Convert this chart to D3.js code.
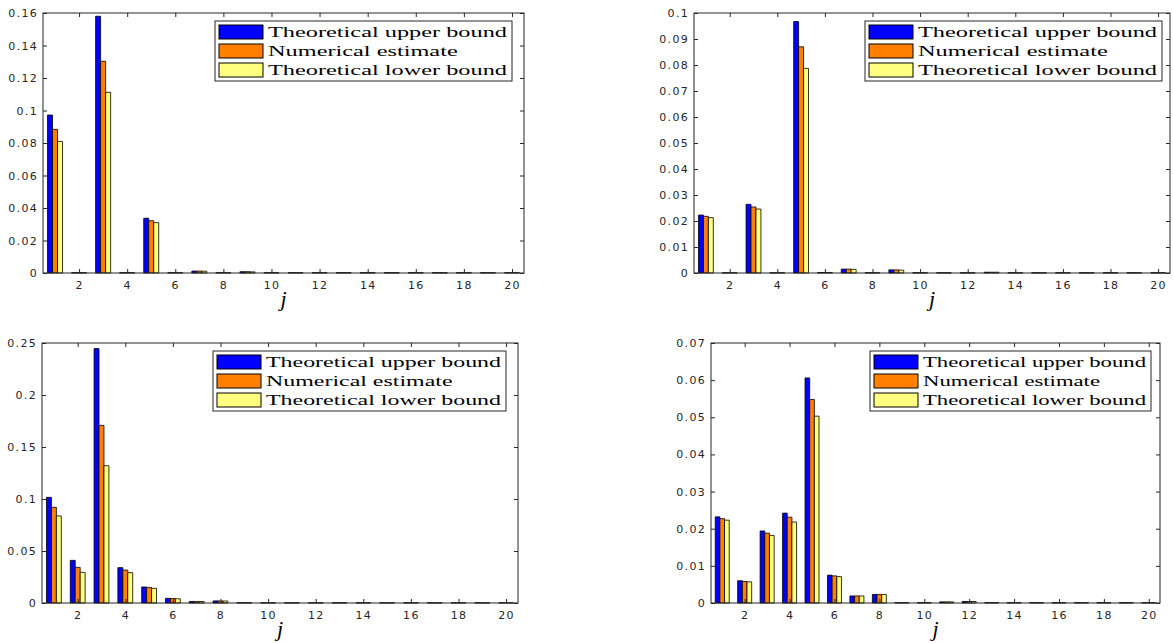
<!DOCTYPE html>
<html>
<head>
<meta charset="utf-8">
<script src="https://cdn.jsdelivr.net/npm/d3@7"></script>
<style>
  html, body { margin: 0; padding: 0; background: #fff; }
</style>
</head>
<body>
<div id="my_dataviz"></div>
<script>
// categories on the x axis
const jValues = [1, 2, 3, 4, 5, 6, 7, 8, 9, 10, 11, 12, 13, 14, 15, 16, 17, 18, 19, 20];
const seriesNames = ["Theoretical upper bound", "Numerical estimate", "Theoretical lower bound"];
const seriesColors = ["#0000ff", "#ff8000", "#ffff80"];

// top-left panel
const upperA = [0.0972, 0.0002, 0.158, 0.0002, 0.0337, 0.0002, 0.0012, 0.0002, 0.0008, 0.0002, 0.0002, 0.0002, 0.0002, 0.0002, 0.0002, 0.0002, 0.0002, 0.0002, 0.0002, 0.0002];
const estA   = [0.0884, 0.0002, 0.1303, 0.0002, 0.0322, 0.0002, 0.0012, 0.0002, 0.0008, 0.0002, 0.0002, 0.0002, 0.0002, 0.0002, 0.0002, 0.0002, 0.0002, 0.0002, 0.0002, 0.0002];
const lowerA = [0.0810, 0.0002, 0.1112, 0.0002, 0.0310, 0.0002, 0.0011, 0.0002, 0.0007, 0.0002, 0.0002, 0.0002, 0.0002, 0.0002, 0.0002, 0.0002, 0.0002, 0.0002, 0.0002, 0.0002];

// top-right panel
const upperB = [0.0223, 0.0001, 0.0264, 0.0001, 0.0967, 0.0002, 0.0015, 0.0001, 0.0012, 0.0001, 0.0001, 0.0001, 0.0003, 0.0001, 0.0001, 0.0001, 0.0001, 0.0001, 0.0001, 0.0001];
const estB   = [0.0218, 0.0001, 0.0254, 0.0001, 0.0870, 0.0002, 0.0015, 0.0001, 0.0012, 0.0001, 0.0001, 0.0001, 0.0003, 0.0001, 0.0001, 0.0001, 0.0001, 0.0001, 0.0001, 0.0001];
const lowerB = [0.0213, 0.0001, 0.0246, 0.0001, 0.0787, 0.0002, 0.0014, 0.0001, 0.0011, 0.0001, 0.0001, 0.0001, 0.0003, 0.0001, 0.0001, 0.0001, 0.0001, 0.0001, 0.0001, 0.0001];

// bottom-left panel
const upperC = [0.1016, 0.0410, 0.2446, 0.0340, 0.0154, 0.0045, 0.0015, 0.0020, 0.0003, 0.0002, 0.0002, 0.0002, 0.0002, 0.0002, 0.0002, 0.0002, 0.0002, 0.0002, 0.0002, 0.0002];
const estC   = [0.0920, 0.0343, 0.1708, 0.0317, 0.0150, 0.0043, 0.0015, 0.0020, 0.0003, 0.0002, 0.0002, 0.0002, 0.0002, 0.0002, 0.0002, 0.0002, 0.0002, 0.0002, 0.0002, 0.0002];
const lowerC = [0.0837, 0.0295, 0.1320, 0.0292, 0.0141, 0.0041, 0.0014, 0.0019, 0.0003, 0.0002, 0.0002, 0.0002, 0.0002, 0.0002, 0.0002, 0.0002, 0.0002, 0.0002, 0.0002, 0.0002];

// bottom-right panel
const upperD = [0.0232, 0.0060, 0.0194, 0.0242, 0.0606, 0.0075, 0.0019, 0.0023, 0.0001, 0.0001, 0.0003, 0.0004, 0.0001, 0.0001, 0.0001, 0.0001, 0.0001, 0.0001, 0.0001, 0.0001];
const estD   = [0.0227, 0.0058, 0.0188, 0.0231, 0.0548, 0.0073, 0.0019, 0.0023, 0.0001, 0.0001, 0.0003, 0.0004, 0.0001, 0.0001, 0.0001, 0.0001, 0.0001, 0.0001, 0.0001, 0.0001];
const lowerD = [0.0223, 0.0057, 0.0182, 0.0218, 0.0503, 0.0071, 0.0019, 0.0023, 0.0001, 0.0001, 0.0003, 0.0004, 0.0001, 0.0001, 0.0001, 0.0001, 0.0001, 0.0001, 0.0001, 0.0001];

// y tick values of each panel
const yTicksA = [0, 0.02, 0.04, 0.06, 0.08, 0.1, 0.12, 0.14, 0.16];
const yTicksB = [0, 0.01, 0.02, 0.03, 0.04, 0.05, 0.06, 0.07, 0.08, 0.09, 0.1];
const yTicksC = [0, 0.05, 0.1, 0.15, 0.2, 0.25];
const yTicksD = [0, 0.01, 0.02, 0.03, 0.04, 0.05, 0.06, 0.07];
const xTicks = [2, 4, 6, 8, 10, 12, 14, 16, 18, 20];

// layout of the four axes (pixels)
const panels = [
  { left: 43, top: 13, width: 481, height: 260, series: [upperA, estA, lowerA], yTicks: yTicksA, legendRight: 12, legendText: 239 },
  { left: 694, top: 13, width: 476, height: 260, series: [upperB, estB, lowerB], yTicks: yTicksB, legendRight: 8, legendText: 239 },
  { left: 42, top: 343, width: 476, height: 260, series: [upperC, estC, lowerC], yTicks: yTicksC, legendRight: 12, legendText: 235 },
  { left: 711, top: 343, width: 449, height: 260, series: [upperD, estD, lowerD], yTicks: yTicksD, legendRight: 9, legendText: 223 }
];

const W = 1173, H = 643;
const axisColor = "#262626";
const tickFont = "DejaVu Sans, sans-serif";
const legendFont = "Liberation Serif, serif";

var svg = d3
  .select("#my_dataviz")
  .append("svg")
  .attr("width", W)
  .attr("height", H);

function fmt(d) {
  return d === 0 ? "0" : String(+d.toFixed(3));
}

panels.forEach(function(p) {
  const g = svg.append("g").attr("transform", "translate(" + p.left + "," + p.top + ")");

  const x = d3.scaleLinear().domain([0.5, 20.5]).range([0, p.width]);
  const yMax = p.yTicks[p.yTicks.length - 1];
  const y = d3.scaleLinear().domain([0, yMax]).range([p.height, 0]);

  // grouped bars, three adjacent bars per j
  const barW = 0.208;
  p.series.forEach(function(vals, s) {
    g.selectAll(".bar" + s)
      .data(vals)
      .enter()
      .append("path")
      .attr("d", function(v, i) {
        const x0 = x(jValues[i] + (s - 1.5) * barW);
        const x1 = x(jValues[i] + (s - 0.5) * barW);
        return "M" + x0 + "," + y(0) + "V" + y(v) + "H" + x1 + "V" + y(0) + "Z";
      })
      .attr("fill", seriesColors[s])
      .attr("stroke", "#000")
      .attr("stroke-width", 0.8);
  });

  // axes with inward ticks
  const bottom = g.append("g")
    .attr("transform", "translate(0," + p.height + ")")
    .call(d3.axisBottom(x).tickValues(xTicks).tickSize(-4).tickSizeOuter(0).tickPadding(8).tickFormat(d3.format("d")));
  const top = g.append("g")
    .call(d3.axisTop(x).tickValues(xTicks).tickSize(-4).tickSizeOuter(0).tickFormat(""));
  const left = g.append("g")
    .call(d3.axisLeft(y).tickValues(p.yTicks).tickSize(-4).tickSizeOuter(0).tickPadding(5).tickFormat(fmt));
  const right = g.append("g")
    .attr("transform", "translate(" + p.width + ",0)")
    .call(d3.axisRight(y).tickValues(p.yTicks).tickSize(-4).tickSizeOuter(0).tickFormat(""));

  [bottom, top, left, right].forEach(function(a) {
    a.select(".domain").remove();
    a.selectAll(".tick line").attr("stroke", axisColor);
    a.selectAll("text")
      .attr("fill", axisColor)
      .style("font-family", tickFont)
      .style("font-size", "11px")
      .style("letter-spacing", "1.3px");
  });

  g.append("rect")
    .attr("width", p.width)
    .attr("height", p.height)
    .attr("fill", "none")
    .attr("stroke", axisColor)
    .attr("stroke-width", 1);

  // x label
  g.append("text")
    .attr("x", p.width / 2)
    .attr("y", p.height + 33)
    .attr("text-anchor", "middle")
    .style("font-family", legendFont)
    .style("font-style", "italic")
    .style("font-size", "22px")
    .text("j");

  // legend
  const legend = g.append("g");
  const box = legend.append("rect").attr("fill", "#fff").attr("stroke", axisColor).attr("stroke-width", 1);
  const texts = [];
  seriesNames.forEach(function(name, i) {
    const t = legend.append("text")
      .attr("dominant-baseline", "central")
      .style("font-family", legendFont)
      .style("font-size", "15px")
      .attr("fill", "#000")
      .text(name);
    texts.push(t);
  });
  const natural = texts[0].node().getComputedTextLength();
  const stretch = p.legendText / natural;
  let maxW = 0;
  texts.forEach(function(t) {
    const w = t.node().getComputedTextLength() * stretch;
    t.attr("textLength", w).attr("lengthAdjust", "spacingAndGlyphs");
    maxW = Math.max(maxW, w);
  });
  const swW = 44, swH = 14, pad = 4, gap = 5;
  const boxW = pad + swW + gap + maxW + 5;
  const boxX = p.width - p.legendRight - boxW;
  legend.attr("transform", "translate(" + boxX + ",8)");
  box.attr("x", 0).attr("y", 0).attr("width", boxW).attr("height", 60);
  texts.forEach(function(t, i) {
    t.attr("x", pad + swW + gap).attr("y", 11 + i * 19);
    legend.append("rect")
      .attr("x", pad)
      .attr("y", 11 + i * 19 - swH / 2)
      .attr("width", swW)
      .attr("height", swH)
      .attr("fill", seriesColors[i])
      .attr("stroke", "#000")
      .attr("stroke-width", 1);
  });
});
</script>
</body>
</html>
